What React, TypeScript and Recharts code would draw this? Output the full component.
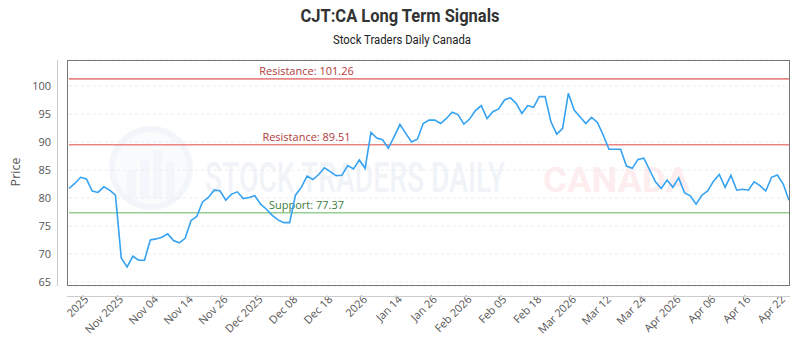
import React from 'react';
import { LineChart, Line, XAxis, YAxis, CartesianGrid, ReferenceLine } from 'recharts';

const prices: number[] = [
  81.7, 82.6, 83.7, 83.4, 81.25, 81.0, 82.0, 81.4, 80.5, 69.3,
  67.7, 69.6, 68.9, 68.9, 72.5, 72.7, 73.0, 73.6, 72.4, 72.0,
  72.8, 75.95, 76.7, 79.3, 80.1, 81.4, 81.3, 79.6, 80.7, 81.1,
  79.9, 80.1, 80.4, 78.9, 78.0, 76.9, 76.1, 75.6, 75.6, 80.5,
  81.9, 83.9, 83.3, 84.2, 85.4, 84.7, 84.0, 84.05, 85.8, 85.2,
  86.8, 85.3, 91.7, 90.7, 90.4, 88.9, 90.95, 93.15, 91.55, 90.0,
  90.5, 93.3, 93.9, 93.9, 93.3, 94.2, 95.3, 94.9, 93.2, 94.1,
  95.6, 96.5, 94.2, 95.4, 95.9, 97.5, 97.9, 96.9, 95.1, 96.5,
  96.2, 98.1, 98.1, 93.6, 91.4, 92.4, 98.7, 95.7, 94.5, 93.3,
  94.4, 93.5, 91.25, 88.7, 88.7, 88.7, 85.7, 85.3, 86.9, 87.1,
  85.0, 82.9, 81.7, 83.2, 81.9, 83.6, 80.95, 80.4, 78.9, 80.5,
  81.25, 83.0, 84.2, 81.9, 84.05, 81.4, 81.55, 81.4, 82.9, 82.2,
  81.25, 83.7, 84.1, 82.5, 79.6,
];

const tickLabels: string[] = [
  '2025', 'Nov 2025', 'Nov 04', 'Nov 14', 'Nov 26', 'Dec 2025', 'Dec 08', 'Dec 18',
  '2026', 'Jan 14', 'Jan 26', 'Feb 2026', 'Feb 05', 'Feb 18', 'Mar 2026', 'Mar 12',
  'Mar 24', 'Apr 2026', 'Apr 06', 'Apr 16', 'Apr 22',
];
const tickStart = 4;
const tickEvery = 6;

const resistanceLevels: number[] = [101.26, 89.51];
const supportLevels: number[] = [77.37];
const yTicks: number[] = [65, 70, 75, 80, 85, 90, 95, 100];

const data = prices.map((p, i) => ({ idx: i, price: p }));
const xTicks = tickLabels.map((_, j) => tickStart + tickEvery * j);

const FONT = '"Open Sans", sans-serif';

const XTick = (props: any) => {
  const { x, y, payload } = props;
  const j = Math.round((payload.value - tickStart) / tickEvery);
  const label = tickLabels[j] ?? '';
  const tx = x - 3;
  return (
    <text x={tx} y={y} transform={`rotate(-45 ${tx} ${y})`} textAnchor="end"
      fontSize={11} fill="#555" fontFamily={FONT}>
      {label}
    </text>
  );
};

const makeLabel = (text: string, color: string) => (props: any) => {
  const vb = props.viewBox || {};
  return (
    <text x={(vb.x ?? 0) + 237.5} y={(vb.y ?? 0) - 4} textAnchor="middle"
      fontSize={11} fill={color} fontFamily={FONT}>
      {text}
    </text>
  );
};

export default function App() {
  return (
    <div style={{ position: 'relative', width: 800, height: 350, background: '#fff' }}>
      <style>{'body{margin:0}'}</style>
      <svg width={800} height={350} style={{ position: 'absolute', left: 0, top: 0 }}>
        <text x={400} y={22} textAnchor="middle" fontSize={19} fontWeight={700}
          fill="#333" fontFamily="Roboto, sans-serif" textLength={199} lengthAdjust="spacingAndGlyphs">
          CJT:CA Long Term Signals
        </text>
        <text x={402} y={44} textAnchor="middle" fontSize={12}
          fill="#222" fontFamily="Roboto, sans-serif" textLength={138} lengthAdjust="spacingAndGlyphs">
          Stock Traders Daily Canada
        </text>
        <text x={0} y={0} transform="translate(20 172) rotate(-90)" textAnchor="middle"
          fontSize={12.5} fill="#555" fontFamily={FONT}>
          Price
        </text>
        <g opacity={0.4}>
          <circle cx={151} cy={168} r={39} fill="#f2f6fb" stroke="#dfe8f3" strokeWidth={6} />
          <rect x={127} y={170} width={9} height={28} fill="#e3ebf5" />
          <rect x={140} y={160} width={9} height={38} fill="#e3ebf5" />
          <rect x={153} y={150} width={9} height={48} fill="#e3ebf5" />
          <rect x={166} y={162} width={9} height={36} fill="#e3ebf5" />
          <text x={205} y={192} fontSize={42} fontWeight={500} fill="#dbe5f0"
            fontFamily="Roboto, sans-serif" textLength={300} lengthAdjust="spacingAndGlyphs">
            STOCK TRADERS DAILY
          </text>
          <text x={543} y={192} fontSize={35} fontWeight={700} fill="#fbd3d6"
            fontFamily="Roboto, sans-serif" textLength={147} lengthAdjust="spacingAndGlyphs">
            CANADA
          </text>
        </g>
      </svg>
      <div style={{ position: 'absolute', left: 0, top: 0 }}>
        <LineChart width={800} height={350} data={data}
          margin={{ top: 60, right: 11, bottom: 0, left: 9 }}>
          <CartesianGrid vertical={false} stroke="#ececec" strokeDasharray="3 3" />
          <XAxis dataKey="idx" type="number" domain={[0, prices.length - 1]} ticks={xTicks}
            interval={0} height={64} axisLine={false} tickLine={false} tickSize={0}
            tickMargin={14} tick={<XTick />} />
          <YAxis type="number" domain={[64.29, 104.64]} ticks={yTicks} width={60}
            axisLine={false} tickLine={false} tickSize={0} tickMargin={18}
            allowDataOverflow
            tick={{ fontSize: 11, fill: '#555', fontFamily: FONT }} />
          {resistanceLevels.map((v) => (
            <ReferenceLine key={'r' + v} y={v} stroke="#e88686" strokeWidth={1.7}
              label={makeLabel(`Resistance: ${v.toFixed(2)}`, '#b23a3a')} />
          ))}
          {supportLevels.map((v) => (
            <ReferenceLine key={'s' + v} y={v} stroke="#93cf93" strokeWidth={1.7}
              label={makeLabel(`Support: ${v.toFixed(2)}`, '#3b7d3b')} />
          ))}
          <Line type="linear" dataKey="price" stroke="#35a2f2" strokeWidth={1.6}
            dot={false} isAnimationActive={false} />
        </LineChart>
      </div>
      <svg width={800} height={350} style={{ position: 'absolute', left: 0, top: 0, pointerEvents: 'none' }}>
        <rect x={67.5} y={60.5} width={722} height={225} fill="none" stroke="#777" strokeWidth={1} />
        <line x1={57.5} y1={60} x2={57.5} y2={286} stroke="#ccc" strokeWidth={1} />
        <line x1={67} y1={296.5} x2={790} y2={296.5} stroke="#ccc" strokeWidth={1} />
      </svg>
    </div>
  );
}
